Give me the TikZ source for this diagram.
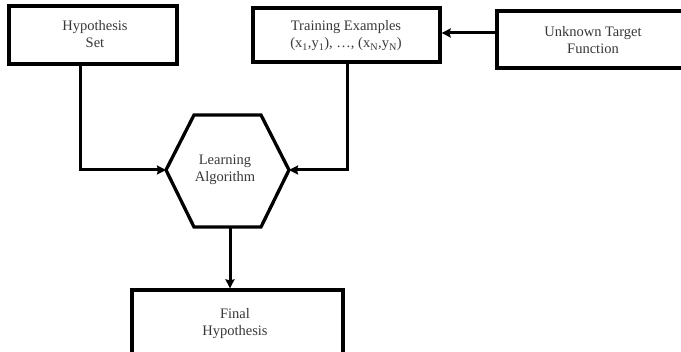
\documentclass[tikz,border=0pt]{standalone}
\usepackage{fontspec}
\setmainfont{Liberation Serif}
\usetikzlibrary{arrows.meta}
\begin{document}
\begin{tikzpicture}[x=1pt,y=-1pt,
  box/.style={draw=black,line width=3.3pt,fill=white,inner sep=0pt},
  lbl/.style={text=black!78,font=\fontsize{14.5}{17}\selectfont,align=center,inner sep=0pt},
  conn/.style={line width=3pt,draw=black,-{Stealth[length=9pt,width=9pt,inset=1pt]}},
  hexline/.style={line width=3.3pt,line join=miter}]
\useasboundingbox (0,0) rectangle (681,352);
\clip (0,0) rectangle (681,352);
% boxes
\node[box,minimum width=168pt,minimum height=58pt] (hs) at (93,35) {};
\node[lbl] (hst) at (95,34) {Hypothesis\\Set};
\node[box,minimum width=187pt,minimum height=54pt] (te) at (346.5,35) {};
\node[lbl] (tet) at (346,36) {Training Examples\\(x\textsubscript{1},y\textsubscript{1}), …, (x\textsubscript{N},y\textsubscript{N})};
\node[box,minimum width=192pt,minimum height=57pt] (ut) at (593,39.5) {};
\node[lbl] (utt) at (593,40) {Unknown Target\\Function};
\node[box,minimum width=211pt,minimum height=70pt] (fh) at (237.5,325) {};
\node[lbl] (fht) at (235,324) {Final\\Hypothesis};
% hexagon
\coordinate (hl) at (166,170);
\coordinate (hr) at (289,170);
\coordinate (htl) at (194,115);
\coordinate (htr) at (261,115);
\coordinate (hbl) at (194,227);
\coordinate (hbr) at (261,227);
\coordinate (hb) at (230,227);
\draw[hexline] (hl) -- (htl) -- (htr) -- (hr) -- (hbr) -- (hbl) -- cycle;
\node[lbl] (la) at (225,170) {Learning\\Algorithm};
% connectors
\coordinate (hsb) at (80,64);
\coordinate (teb) at (347,62);
\draw[conn] (hsb) |- (hl);
\draw[conn] (teb) |- (hr);
\draw[conn] (ut.west |- 0,33) -- (te.east |- 0,33);
\draw[conn] (hb) -- (hb |- fh.north);
\end{tikzpicture}
\end{document}
